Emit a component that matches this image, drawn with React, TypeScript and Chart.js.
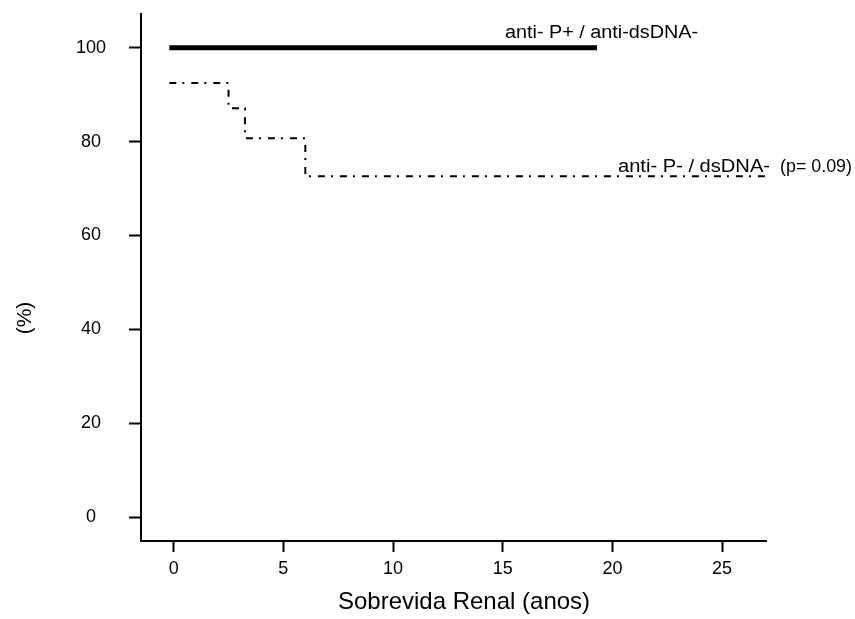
import React, { useEffect, useRef } from "react";
import { Chart, registerables } from "chart.js";

Chart.register(...registerables);

// ---- data ----
const xTickValues = [0, 5, 10, 15, 20, 25];
const yTickValues = [0, 20, 40, 60, 80, 100];
const groupPosTimes = [-0.2, 19.3];
const groupPosSurvival = [100, 100];
const groupNegTimes = [-0.2, 2.5, 3.25, 6.0, 27.0];
const groupNegSurvival = [92.5, 87.1, 80.7, 72.6, 72.6];
const xAxisTitle = "Sobrevida Renal (anos)";
const yAxisTitle = "(%)";
const labelPos = "anti- P+ / anti-dsDNA-";
const labelNeg = "anti- P- / dsDNA-";
const pValueLabel = "(p= 0.09)";

const FONT = '"Liberation Sans", Arial, Helvetica, sans-serif';

function drawFit(ctx: any, text: string, x: number, y: number, size: number, width: number) {
  ctx.save();
  ctx.font = `${size}px ${FONT}`;
  const w = ctx.measureText(text).width;
  const k = w > 0 ? width / w : 1;
  ctx.translate(x, y);
  ctx.scale(k, 1);
  ctx.textAlign = "left";
  ctx.textBaseline = "alphabetic";
  ctx.fillText(text, 0, 0);
  ctx.restore();
}

const textPlugin = {
  id: "kmText",
  afterDraw(chart: any) {
    const ctx = chart.ctx;
    ctx.save();
    ctx.fillStyle = "#000";
    drawFit(ctx, labelPos, 505, 38, 18, 193);
    drawFit(ctx, labelNeg, 618, 172, 17.5, 152);
    drawFit(ctx, pValueLabel, 780, 172, 17.5, 72);
    // x axis title
    ctx.font = `24px ${FONT}`;
    ctx.textAlign = "center";
    ctx.textBaseline = "alphabetic";
    ctx.fillText(xAxisTitle, 464, 609);
    // y axis title
    ctx.translate(25, 318);
    ctx.rotate(-Math.PI / 2);
    ctx.font = `21px ${FONT}`;
    ctx.textBaseline = "middle";
    ctx.fillText(yAxisTitle, 0, 0);
    ctx.restore();
  },
};

export default function App() {
  const ref = useRef<HTMLCanvasElement>(null);
  useEffect(() => {
    if (!ref.current) return;
    const chart = new Chart(ref.current, {
      type: "line",
      data: {
        datasets: [
          {
            label: labelPos,
            data: groupPosTimes.map((t, i) => ({ x: t, y: groupPosSurvival[i] })),
            borderColor: "#000",
            borderWidth: 5,
            borderCapStyle: "butt",
            pointRadius: 0,
            fill: false,
          },
          {
            label: labelNeg,
            data: groupNegTimes.map((t, i) => ({ x: t, y: groupNegSurvival[i] })),
            borderColor: "#000",
            borderWidth: 2,
            borderDash: [7, 6, 2, 7],
            stepped: "before",
            pointRadius: 0,
            fill: false,
          },
        ],
      } as any,
      options: {
        animation: false,
        responsive: false,
        layout: { padding: { top: 14, right: 89, left: 0, bottom: 0 } },
        plugins: { legend: { display: false }, tooltip: { enabled: false } },
        scales: {
          x: {
            type: "linear",
            min: -1.49,
            max: 27.0,
            afterFit: (s: any) => {
              s.height = 78;
              s.paddingLeft = 0;
              s.paddingRight = 0;
            },
            afterBuildTicks: (s: any) => {
              s.ticks = xTickValues.map((v) => ({ value: v }));
            },
            border: { display: true, color: "#000", width: 2 },
            grid: {
              drawOnChartArea: false,
              drawTicks: true,
              tickLength: 11,
              tickWidth: 2,
              tickColor: "#000",
              color: "#000",
            },
            ticks: {
              autoSkip: false,
              maxRotation: 0,
              padding: 6,
              color: "#000",
              font: { family: FONT, size: 18 },
              callback: (v: any) => String(v),
            },
          },
          y: {
            type: "linear",
            min: -5.1,
            max: 107.2,
            afterFit: (s: any) => {
              s.width = 141;
              s.paddingTop = 0;
              s.paddingBottom = 0;
            },
            afterBuildTicks: (s: any) => {
              s.ticks = yTickValues.map((v) => ({ value: v }));
            },
            border: { display: true, color: "#000", width: 2 },
            grid: {
              drawOnChartArea: false,
              drawTicks: true,
              tickLength: 12,
              tickWidth: 2,
              tickColor: "#000",
              color: "#000",
            },
            ticks: {
              crossAlign: "center",
              padding: 23,
              color: "#000",
              font: { family: FONT, size: 18 },
              callback: (v: any) => String(v),
            },
          },
        },
      } as any,
      plugins: [textPlugin],
    });
    return () => chart.destroy();
  }, []);
  return (
    <div style={{ position: "absolute", left: 0, top: 0, width: 855, height: 619, background: "#fff" }}>
      <canvas ref={ref} width={855} height={619} style={{ display: "block" }} />
    </div>
  );
}
